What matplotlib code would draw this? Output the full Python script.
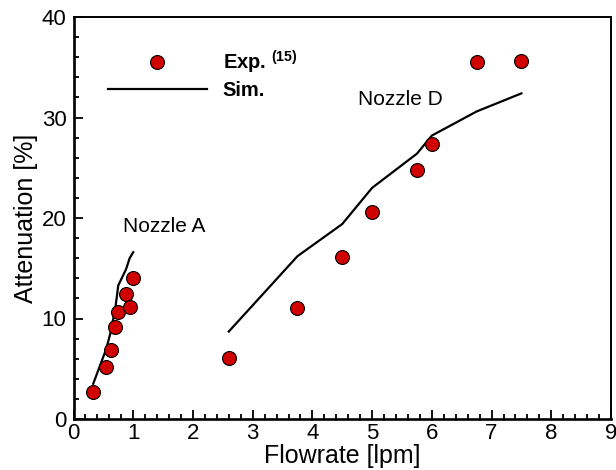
import matplotlib
matplotlib.use("Agg")
import matplotlib.pyplot as plt
from matplotlib.lines import Line2D
from matplotlib.ticker import MultipleLocator

plt.rcParams['font.family'] = ['Liberation Sans', 'DejaVu Sans']
plt.rcParams['mathtext.fontset'] = 'custom'
plt.rcParams['mathtext.bf'] = 'Liberation Sans:bold'
plt.rcParams['mathtext.rm'] = 'Liberation Sans'

# Experimental data (Nozzle A)
exp_a_x = [0.33, 0.55, 0.62, 0.70, 0.75, 0.88, 0.94, 1.00]
exp_a_y = [2.7, 5.2, 6.9, 9.2, 10.6, 12.4, 11.1, 14.0]
# Simulation (Nozzle A)
sim_a_x = [0.33, 0.55, 0.62, 0.70, 0.75, 0.88, 0.94, 1.00]
sim_a_y = [3.5, 7.0, 8.6, 11.0, 13.3, 14.9, 16.0, 16.6]
# Experimental data (Nozzle D)
exp_d_x = [2.6, 3.75, 4.5, 5.0, 5.75, 6.0, 6.75, 7.5]
exp_d_y = [6.1, 11.0, 16.1, 20.6, 24.8, 27.4, 35.5, 35.6]
# Simulation (Nozzle D)
sim_d_x = [2.6, 3.75, 4.5, 5.0, 5.75, 6.0, 6.75, 7.5]
sim_d_y = [8.7, 16.2, 19.4, 23.0, 26.4, 28.2, 30.6, 32.4]

x_ticks = [0, 1, 2, 3, 4, 5, 6, 7, 8, 9]
y_ticks = [0, 10, 20, 30, 40]

red = '#d00000'
fs = 15
ms = 10

fig = plt.figure(figsize=(6.16, 4.70), dpi=100)
ax = fig.add_axes([73.5/616, 1-419/470, (611-73.5)/616, (419-17)/470])

ax.plot(sim_a_x, sim_a_y, color='black', lw=1.6, zorder=2)
ax.plot(sim_d_x, sim_d_y, color='black', lw=1.6, zorder=2)
ax.plot(exp_a_x, exp_a_y, 'o', ms=ms, mfc=red, mec='black', mew=0.8, zorder=3)
ax.plot(exp_d_x, exp_d_y, 'o', ms=ms, mfc=red, mec='black', mew=0.8, zorder=3)

ax.text(0.83, 19.2, 'Nozzle A', fontsize=fs, va='center', ha='left')
ax.text(4.77, 31.8, 'Nozzle D', fontsize=fs, va='center', ha='left')

ax.set_xlim(0, 9)
ax.set_ylim(0, 40)
ax.set_xticks(x_ticks)
ax.set_yticks(y_ticks)
ax.xaxis.set_minor_locator(MultipleLocator(0.2))
ax.yaxis.set_minor_locator(MultipleLocator(2))
ax.tick_params(which='both', direction='in', top=False, right=False, width=1.3)
ax.tick_params(which='major', length=6.5, labelsize=16)
ax.tick_params(which='minor', length=3.6)
ax.tick_params(axis='x', pad=3)
ax.tick_params(axis='y', pad=5)
for s in ax.spines.values():
    s.set_linewidth(1.4)
ax.spines['left'].set_linewidth(1.9)
ax.spines['bottom'].set_linewidth(1.9)

ax.set_xlabel('Flowrate [lpm]', fontsize=18, labelpad=0)
ax.set_ylabel('Attenuation [%]', fontsize=18, labelpad=3)

handles = [
    Line2D([], [], ls='none', marker='o', ms=ms, mfc=red, mec='black', mew=0.8),
    Line2D([], [], color='black', lw=1.6),
]
labels = [r'Exp. $^{\mathbf{(15)}}$', 'Sim.']
leg = ax.legend(handles, labels, loc='upper left', bbox_to_anchor=(0.064, 0.922),
                frameon=False, borderpad=0, borderaxespad=0, handlelength=4.9,
                handletextpad=0.8, labelspacing=0.25,
                prop={'weight': 'bold', 'size': 14.5})

fig.savefig('out.png', dpi=100)
